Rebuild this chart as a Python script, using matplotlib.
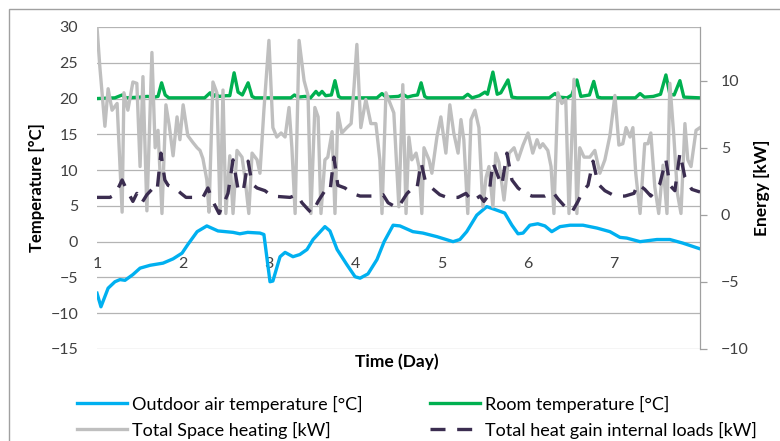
import matplotlib
matplotlib.use("Agg")
import matplotlib.pyplot as plt
from matplotlib.lines import Line2D
from matplotlib.patches import Rectangle

plt.rcParams['font.family'] = ['Lato', 'DejaVu Sans']

# ---- data (hours since start, values) ----
day_ticks = [0, 24, 48, 72, 96, 120, 144]
day_labels = ['1', '2', '3', '4', '5', '6', '7']

outdoor_h = [0, 1.1, 3.1, 5, 6.4, 7.8, 10, 12, 14.8, 18.4, 21.2, 23.7, 25.3, 27.9, 30.6,
             33.7, 37.9, 39.8, 42, 45.4, 46.5, 48.2, 49, 51, 52.4, 54.6, 56.5, 58.5, 60.2,
             63.5, 64.9, 66.9, 69.6, 71.9, 73.3, 75.5, 78, 80, 82.5, 84.4, 88, 90.8, 94.7,
             99.2, 101.1, 103, 105.8, 108.6, 111.4, 113.6, 115.6, 117.3, 118.7, 120.6, 122.8,
             124.8, 126.7, 129, 131.8, 135.4, 139.3, 142.9, 145.7, 147.6, 151.3, 156, 159.6,
             163.2, 168]
outdoor_t = [-7.2, -9.1, -6.5, -5.6, -5.3, -5.4, -4.6, -3.7, -3.3, -3.0, -2.4, -1.6, -0.4, 1.4, 2.2,
             1.5, 1.3, 1.1, 1.3, 1.2, 1.0, -5.6, -5.5, -2.1, -1.5, -2.1, -1.8, -1.1, 0.3,
             2.1, 1.5, -1.1, -3.2, -4.9, -5.1, -4.5, -2.5, 0.0, 2.3, 2.2, 1.4, 1.2, 0.7,
             0.0, 0.3, 1.4, 3.7, 4.9, 4.4, 4.0, 2.3, 1.1, 1.2, 2.3, 2.5,
             2.2, 1.4, 2.1, 2.3, 2.3, 1.9, 1.4, 0.6, 0.5, 0.0, 0.3, 0.3,
             -0.2, -1.0]

room_h = [0, 5, 7, 8, 12, 14, 16, 17, 18, 19, 20, 30, 31.5, 32.3, 33.1, 34, 36, 37, 38.2, 39.3,
          40.5, 42.1, 43.2, 44, 54, 55, 56, 58, 59.5, 61, 61.8, 62.7, 63.7, 65.3, 66.3, 67.3,
          68, 78, 79.4, 80.5, 84, 85.2, 86.5, 88, 89.3, 90.3, 91.3, 92, 102, 103.3, 104.5,
          106.5, 108.1, 108.8, 110.3, 111.5, 112.5, 114.5, 115.6, 117, 126, 127.6, 128.8,
          131, 132.3, 133.7, 134.8, 137.2, 138.4, 139.5, 140.5, 150, 151.3, 152.5, 155, 157,
          158.5, 159.6, 160.8, 162.4, 163.5, 168]
room_t = [20.0, 20.1, 20.5, 20.1, 20.2, 20.3, 20.2, 20.3, 22.2, 20.5, 20.1, 20.1, 20.8, 20.2, 20.6,
          20.3, 20.4, 20.4, 23.6, 20.9, 20.5, 22.2, 20.3, 20.1, 20.1, 20.5, 20.2, 20.3, 20.1,
          21.0, 20.5, 21.0, 20.4, 20.5, 22.5, 20.3, 20.1, 20.1, 20.7, 20.2, 20.3, 20.6, 20.2,
          20.4, 20.5, 22.2, 20.3, 20.1, 20.1, 20.6, 20.1, 20.4, 20.9, 20.6, 23.7, 20.6, 20.8,
          22.6, 20.2, 20.1, 20.1, 20.7, 20.2, 20.1, 20.5, 22.6, 20.3, 20.5, 22.4, 20.2, 20.1,
          20.1, 20.7, 20.2, 20.3, 20.6, 23.3, 20.6, 20.5, 22.5, 20.2, 20.1]

heating_h = [0, 0.8, 2.2, 3.1, 4.2, 5.6, 7.0, 7.5, 8.6, 10.0, 11.1, 12.0, 12.8, 13.9, 15.3, 16.2,
             17.0, 18.1, 19.2, 20.1, 21.2, 22.3, 23.1, 24.0, 25.3, 26.7, 27.9, 28.7, 29.5, 30.6,
             31.2, 32.3, 33.4, 34.3, 35.1, 35.9, 37.0, 37.9, 39.0, 40.4, 41.2, 42.3, 43.2, 44.6,
             45.4, 46.5, 47.9, 49.0, 50.1, 51.3, 52.4, 53.5, 54.3, 55.2, 56.3, 57.7, 58.8, 59.6,
             60.7, 61.6, 62.4, 63.5, 64.3, 65.5, 66.3, 67.1, 68.2, 69.6, 70.8, 71.6, 72.4, 73.5,
             74.9, 76.3, 77.7, 78.8, 79.4, 80.5, 82.7, 84.1, 85.2, 86.1, 86.9, 87.7, 88.9, 89.7,
             90.5, 91.1, 92.5, 93.3, 94.7, 95.8, 97.2, 98.3, 99.4, 100.6, 101.4, 102.2, 103.3,
             104.2, 105.3, 106.4, 107.5, 108.4, 109.2, 110.3, 111.1, 112.0, 113.4, 114.8, 116.2,
             117.3, 118.7, 120.1, 121.4, 122.6, 123.4, 124.2, 125.6, 126.5, 127.3, 128.4, 129.5,
             130.6, 131.5, 132.9, 133.7, 134.5, 135.7, 137.3, 138.7, 140.1, 141.5, 142.9, 144.3,
             145.4, 146.5, 147.4, 148.5, 149.3, 150.1, 151.3, 152.6, 153.5, 154.3, 155.4, 156.5,
             157.7, 158.8, 159.6, 160.7, 161.7, 162.7, 163.8, 164.6, 165.5, 166.9, 168.0]
heating_kw = [14.0, 11.0, 6.6, 9.4, 7.8, 8.3, 0.2, 9.1, 7.8, 9.9, 9.8, 3.6, 10.3, 0.3, 12.1, 5.0,
              6.3, 0.1, 8.2, 6.7, 4.4, 7.3, 5.6, 8.2, 5.9, 5.4, 5.0, 4.8, 4.2, 2.6,
              0.2, 9.9, 9.1, 0.1, 9.3, 0.1, 4.4, 0.1, 4.8, 4.3, 2.8, 0.1, 4.6, 4.1,
              3.1, 7.8, 13.0, 6.5, 5.8, 6.1, 5.8, 8.0, 5.0, 0.1, 13.0, 10.0, 8.9, 0.1,
              8.0, 7.3, 0.1, 4.1, 4.3, 6.2, 0.1, 7.6, 6.1, 6.5, 6.8, 9.5, 12.7, 6.5,
              8.6, 6.8, 6.8, 4.1, 0.1, 9.1, 7.6, 0.6, 9.7, 0.1, 5.8, 4.1, 4.6, 3.6,
              0.1, 5.0, 4.1, 3.1, 5.8, 7.3, 4.6, 8.2, 6.1, 4.6, 7.1, 5.6, 0.1,
              7.1, 7.8, 6.5, 0.6, 2.8, 3.6, 0.6, 4.6, 3.9, 1.1, 4.6, 5.0,
              4.1, 5.2, 6.1, 4.6, 5.6, 5.0, 5.3, 4.8, 3.6, 0.1, 9.1, 8.3,
              8.6, 0.1, 10.1, 0.1, 5.0, 4.3, 4.3, 4.8, 3.1, 4.1, 5.9, 8.9,
              5.2, 5.3, 6.5, 5.8, 6.5, 3.1, 0.1, 5.3, 5.3, 6.1, 2.1, 0.1,
              3.7, 0.1, 9.8, 5.9, 1.6, 0.1, 6.8, 4.1, 3.6, 6.3, 6.5]

gains_h = [0, 3.6, 5, 7, 8.4, 10, 11.1, 12.5, 13.9, 15.3, 16.7, 17.8, 18.9, 19.8, 21.7, 23.4,
           24.8, 29.5, 30.9, 32.3, 34, 35.4, 36.5, 37.9, 39.3, 40.7, 42.1, 43.2, 44.6, 46.8,
           48.7, 53.8, 55.7, 57.1, 58.8, 59.9, 61.6, 63.5, 64.9, 66, 67.1, 69.1, 71, 73.3, 78,
           79.7, 81.1, 83.8, 85.2, 86.4, 88, 89.1, 90.3, 91.4, 93.3, 95.5, 97.5, 100.6, 102.8,
           104.5, 106.7, 107.8, 109.2, 110.3, 111.7, 112.8, 114.2, 115.6, 117.3, 119.2, 121.2,
           124.8, 127, 128.4, 130.4, 132.3, 134, 135.4, 136.8, 138.2, 139.6, 141.5, 144.3,
           147.1, 149.6, 150.7, 152.6, 154.3, 155.4, 156.8, 158.5, 159.6, 161, 162.4, 163.8,
           165.7, 168]
gains_kw = [1.3, 1.3, 1.5, 2.6, 1.8, 1.0, 1.6, 0.9, 1.5, 1.9, 1.7, 4.6, 2.6, 2.2, 2.0, 1.6,
            1.3, 1.3, 2.0, 1.0, 0.1, 0.9, 1.6, 4.1, 1.9, 1.7, 4.0, 2.3, 2.0, 1.8,
            1.4, 1.3, 1.5, 0.9, 0.4, 0.1, 1.0, 1.8, 1.7, 4.3, 2.2, 2.0, 1.6, 1.4, 1.4,
            1.5, 0.9, 0.5, 1.1, 1.6, 2.0, 1.9, 3.9, 2.6, 2.0, 1.5, 1.3, 1.3, 1.6,
            1.0, 1.4, 1.0, 1.5, 3.9, 2.9, 2.2, 4.6, 2.6, 2.0, 1.6, 1.4,
            1.4, 1.7, 1.2, 0.6, 0.2, 1.0, 1.8, 2.2, 4.0, 2.3, 1.8, 1.4,
            1.4, 1.6, 2.3, 1.9, 1.4, 1.8, 2.3, 4.1, 2.2, 1.8, 4.6, 2.8,
            1.9, 1.7]

series_names = ['Outdoor air temperature [°C]', 'Room temperature [°C]',
                'Total Space heating [kW]', 'Total heat gain internal loads [kW]']

# ---- styling ----
C_BLUE = '#00B0F0'
C_GREEN = '#00B050'
C_GRAY = '#BFBFBF'
C_DARK = '#3B2D50'
GRID = '#B4B4B4'
TXT = '#404040'
LW = 2.4
DASH = (4.5, 3.5)

W, H = 780, 441
fig = plt.figure(figsize=(W / 100, H / 100), dpi=100)
L, R, T, B = 97, 700, 27, 349
ax = fig.add_axes([L / W, 1 - B / H, (R - L) / W, (B - T) / H])
ax2 = ax.twinx()

# outer chart border (left/top visible)
fig.patches.append(Rectangle((9 / W, -0.2), 1.5, 1 - 9 / H + 0.2, transform=fig.transFigure,
                             fill=False, edgecolor='#A0A0A0', linewidth=1.0, zorder=0))

ax.plot(outdoor_h, outdoor_t, color=C_BLUE, lw=LW, solid_joinstyle='round', zorder=3)
ax.plot(room_h, room_t, color=C_GREEN, lw=LW, solid_joinstyle='round', zorder=3)
ax2.plot(heating_h, heating_kw, color=C_GRAY, lw=LW, solid_joinstyle='round', zorder=3)
ax2.plot(gains_h, gains_kw, color=C_DARK, lw=LW, dashes=DASH, zorder=4)

ax.set_xlim(0, 168)
ax.set_ylim(-15, 30)
ax.set_yticks(range(-15, 31, 5))
ax2.set_ylim(-10, 14)
ax2.set_yticks([-10, -5, 0, 5, 10])

ax.grid(axis='y', color=GRID, lw=0.9)
ax.set_axisbelow(True)
for sp in ['left', 'top', 'bottom']:
    ax.spines[sp].set_visible(False)
    ax2.spines[sp].set_visible(False)
ax.spines['right'].set_visible(False)
ax2.spines['right'].set_color('#A0A0A0')
ax2.spines['right'].set_linewidth(0.9)

# x axis crossing at 0 °C
ax.spines['bottom'].set_position(('data', 0))
ax.set_xticks(day_ticks)
ax.set_xticklabels(day_labels)
ax.tick_params(axis='x', length=0, pad=11, labelsize=11.5, colors=TXT)
ax.tick_params(axis='y', length=0, pad=13.5, labelsize=11.5, colors=TXT)
ax2.tick_params(axis='y', length=5, width=0.9, color='#A0A0A0', pad=10, labelsize=11.5,
                labelcolor=TXT)

for a in (ax, ax2):
    a.patch.set_visible(False)

fig.text(37 / W, 1 - 188 / H, 'Temperature [°C]', rotation=90, ha='center', va='center',
         fontsize=12, fontweight='bold', color='#000000')
fig.text(762 / W, 1 - 188 / H, 'Energy [kW]', rotation=90, ha='center', va='center',
         fontsize=12.5, fontweight='bold', color='#000000')
fig.text(397 / W, 1 - 362 / H, 'Time (Day)', ha='center', va='center',
         fontsize=12.5, fontweight='bold', color='#000000')

# ---- legend (two columns, row-major like the original) ----
leg_items = [
    (series_names[0], dict(color=C_BLUE), 77, 403),
    (series_names[1], dict(color=C_GREEN), 430, 403),
    (series_names[2], dict(color=C_GRAY), 77, 429),
    (series_names[3], dict(color=C_DARK, dashes=DASH), 430, 429),
]
for name, style, x0, y0 in leg_items:
    fig.add_artist(Line2D([x0 / W, (x0 + 50) / W], [1 - y0 / H, 1 - y0 / H],
                          transform=fig.transFigure, lw=LW, **style))
    fig.text((x0 + 55) / W, 1 - y0 / H, name, ha='left', va='center_baseline',
             fontsize=13, color='#000000')

fig.savefig('out.png', dpi=100)
